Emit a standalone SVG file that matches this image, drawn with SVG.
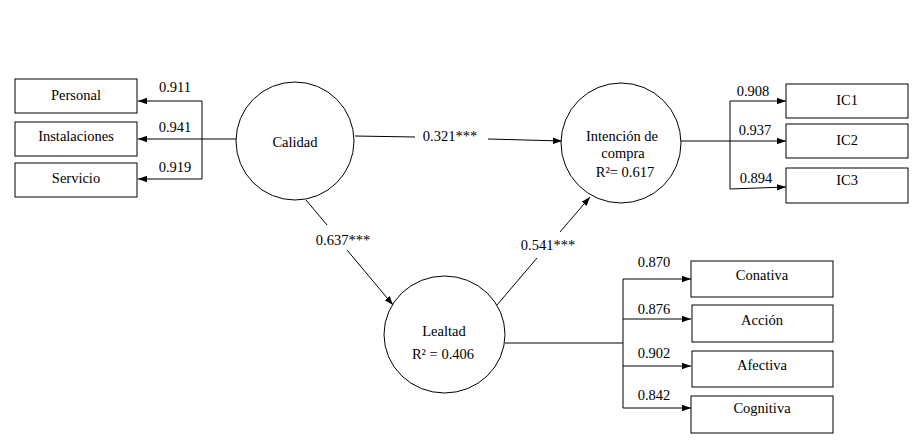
<svg xmlns="http://www.w3.org/2000/svg" width="923" height="446" viewBox="0 0 923 446">
<style>
  .box { fill: #fff; stroke: #000; stroke-width: 1; }
  .lv { fill: #fff; stroke: #000; stroke-width: 1; }
  .c line { stroke: #000; stroke-width: 1; fill: none; }
</style>
<defs>
  <marker id="ah" markerUnits="userSpaceOnUse" markerWidth="10" markerHeight="8" refX="9" refY="4" orient="auto">
    <path d="M0,0.8 L9,4 L0,7.2 Z" fill="#000"/>
  </marker>
</defs>
<rect width="923" height="446" fill="#fff"/>

<g id="connectors" class="c">
  <line x1="202" y1="101" x2="202" y2="179"/>
  <line x1="202" y1="101" x2="138" y2="101" marker-end="url(#ah)"/>
  <line x1="236" y1="139" x2="138" y2="139" marker-end="url(#ah)"/>
  <line x1="202" y1="179" x2="138" y2="179" marker-end="url(#ah)"/>
  <line x1="730" y1="101" x2="730" y2="189"/>
  <line x1="730" y1="101" x2="786" y2="101" marker-end="url(#ah)"/>
  <line x1="681" y1="141" x2="786" y2="141" marker-end="url(#ah)"/>
  <line x1="730" y1="189" x2="786" y2="187" marker-end="url(#ah)"/>
  <line x1="505" y1="343" x2="623" y2="343"/>
  <line x1="623" y1="279" x2="623" y2="408"/>
  <line x1="623" y1="279" x2="691" y2="279" marker-end="url(#ah)"/>
  <line x1="623" y1="319" x2="691" y2="319" marker-end="url(#ah)"/>
  <line x1="623" y1="366" x2="691" y2="366" marker-end="url(#ah)"/>
  <line x1="623" y1="408" x2="691" y2="408" marker-end="url(#ah)"/>
  <line x1="355" y1="136" x2="415" y2="137"/>
  <line x1="488" y1="139" x2="562" y2="141" marker-end="url(#ah)"/>
  <line x1="306" y1="200" x2="327" y2="225"/>
  <line x1="347" y1="250" x2="393" y2="305" marker-end="url(#ah)"/>
  <line x1="497" y1="305" x2="537" y2="258"/>
  <line x1="560" y1="232" x2="590" y2="197" marker-end="url(#ah)"/>
</g>

<g font-family="Liberation Serif, serif" font-size="14.5" text-anchor="middle" fill="#000">
<g id="labels">
  <text x="175" y="92">0.911</text>
  <text x="175" y="132">0.941</text>
  <text x="175" y="172">0.919</text>
  <text x="753" y="96">0.908</text>
  <text x="755" y="135">0.937</text>
  <text x="756" y="183">0.894</text>
  <text x="654" y="267">0.870</text>
  <text x="654" y="314">0.876</text>
  <text x="654" y="358">0.902</text>
  <text x="654" y="400">0.842</text>
  <text x="450" y="141">0.321***</text>
  <text x="343" y="245">0.637***</text>
  <text x="548" y="250">0.541***</text>
</g>

<g id="calidad">
  <circle class="lv" cx="295" cy="141" r="59"/>
  <text x="295" y="147">Calidad</text>
</g>
<g id="intencion">
  <circle class="lv" cx="621" cy="143" r="60"/>
  <text x="622" y="141">Intención de</text>
  <text x="623" y="158">compra</text>
  <text x="625" y="177">R²= 0.617</text>
</g>
<g id="lealtad">
  <ellipse class="lv" cx="444.5" cy="334.5" rx="60.5" ry="58.5"/>
  <text x="444" y="336">Lealtad</text>
  <text x="443" y="359">R² = 0.406</text>
</g>

<g id="personal"><rect class="box" x="15" y="79" width="122" height="34"/><text x="76" y="100">Personal</text></g>
<g id="instalaciones"><rect class="box" x="15" y="122" width="122" height="34"/><text x="76" y="141">Instalaciones</text></g>
<g id="servicio"><rect class="box" x="15" y="163" width="122" height="34"/><text x="76" y="183">Servicio</text></g>

<g id="ic1"><rect class="box" x="786" y="84" width="122" height="34"/><text x="847" y="105">IC1</text></g>
<g id="ic2"><rect class="box" x="786" y="124" width="122" height="34"/><text x="847" y="145">IC2</text></g>
<g id="ic3"><rect class="box" x="786" y="168" width="122" height="35"/><text x="847" y="185">IC3</text></g>

<g id="conativa"><rect class="box" x="691" y="261" width="142" height="36"/><text x="762" y="280">Conativa</text></g>
<g id="accion"><rect class="box" x="692" y="305" width="141" height="37"/><text x="762" y="325">Acción</text></g>
<g id="afectiva"><rect class="box" x="692" y="351" width="141" height="36"/><text x="762" y="370">Afectiva</text></g>
<g id="cognitiva"><rect class="box" x="691" y="396" width="142" height="37"/><text x="762" y="413">Cognitiva</text></g>
</g>
</svg>
